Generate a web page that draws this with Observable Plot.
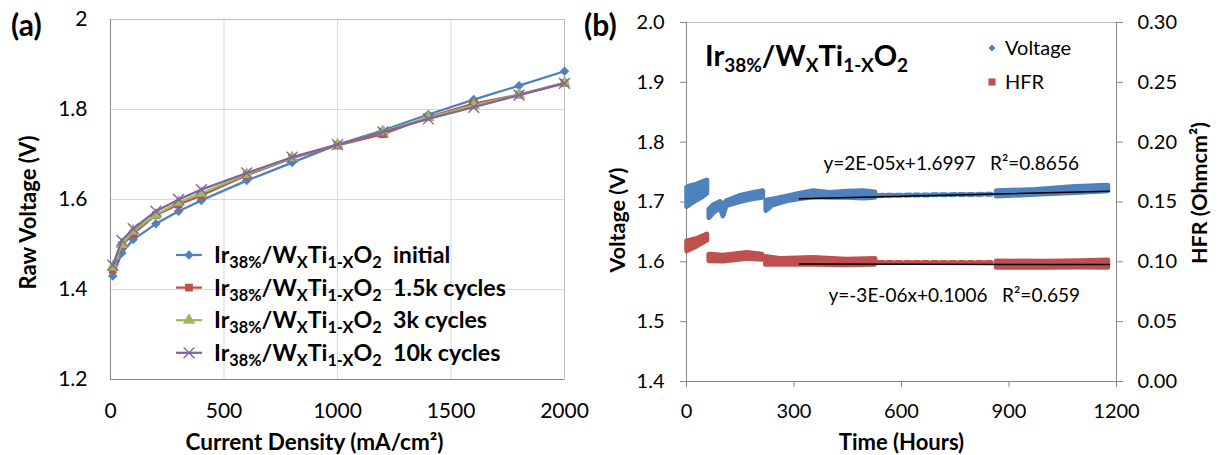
<!DOCTYPE html>
<html><head><meta charset="utf-8">
<script src="https://cdn.jsdelivr.net/npm/d3@7"></script>
<script src="https://cdn.jsdelivr.net/npm/@observablehq/plot@0.6"></script>
<style>
html,body{margin:0;padding:0;background:#fff;}
#root{position:relative;width:1220px;height:455px;overflow:hidden;background:#fff;}
#root svg{position:absolute;top:0;}
</style></head><body><div id="root"></div>
<script>
// ---------- Panel (a): polarization curves ----------
const currentDensity = [10, 50, 100, 200, 300, 400, 600, 800, 1000, 1200, 1400, 1600, 1800, 2000];
const vInitial = [1.430, 1.481, 1.511, 1.546, 1.574, 1.598, 1.642, 1.682, 1.722, 1.754, 1.789, 1.822, 1.853, 1.885];
const v1500    = [1.444, 1.498, 1.524, 1.565, 1.589, 1.609, 1.654, 1.692, 1.720, 1.745, 1.783, 1.813, 1.833, 1.859];
const v3000    = [1.450, 1.500, 1.530, 1.566, 1.594, 1.614, 1.656, 1.693, 1.722, 1.751, 1.782, 1.809, 1.833, 1.859];
const v10000   = [1.454, 1.509, 1.535, 1.574, 1.600, 1.622, 1.659, 1.694, 1.722, 1.750, 1.779, 1.805, 1.832, 1.858];
const seriesNames = ["initial", "1.5k cycles", "3k cycles", "10k cycles"];
const aXTicks = [0, 500, 1000, 1500, 2000];
const aYTicks = [1.2, 1.4, 1.6, 1.8, 2.0];
const aYTickLabels = ["1.2", "1.4", "1.6", "1.8", "2"];
const aGridX = [500, 1000, 1500];
const aGridY = [1.4, 1.6, 1.8];

// ---------- Panel (b): durability (bands) ----------
const voltSeg  = [1,1,1,1,1, 2,2,2,2,2,2,2,2, 3,3,3,3,3,3,3,3,3, 4,4,4,4];
const voltTime = [2,15,30,45,58, 64,75,95,103,112,150,188,214, 223,240,280,318,355,400,448,495,527, 866,975,1086,1177];
const voltLow  = [1.692,1.697,1.703,1.708,1.714, 1.673,1.681,1.690,1.676,1.693,1.700,1.705,1.707, 1.685,1.694,1.701,1.705,1.708,1.707,1.707,1.706,1.707, 1.709,1.712,1.715,1.718];
const voltHigh = [1.724,1.727,1.729,1.733,1.736, 1.687,1.694,1.700,1.694,1.701,1.710,1.715,1.718, 1.702,1.704,1.709,1.714,1.718,1.715,1.717,1.718,1.716, 1.718,1.720,1.725,1.727];
const voltSparseTime = [535, 858];
const voltSparse     = [1.711, 1.713];

const hfrSeg  = [1,1,1, 2,2,2,2,2, 3,3,3,3,3, 4,4,4,4];
const hfrTime = [2,30,58, 64,104,140,170,212, 222,262,355,448,527, 866,1000,1100,1177];
const hfrLow  = [0.1088,0.1129,0.1177, 0.1004,0.1002,0.1015,0.1026,0.1018, 0.0976,0.0976,0.0976,0.0971,0.0976, 0.0950,0.0950,0.0952,0.0950];
const hfrHigh = [0.1171,0.1191,0.1227, 0.1060,0.1051,0.1064,0.1074,0.1060, 0.1040,0.1023,0.1032,0.1018,0.1023, 0.1003,0.1000,0.1005,0.1012];
const hfrSparseTime = [535, 858];
const hfrSparse     = [0.0995, 0.0994];

const trendTime = [315, 1180];
const voltTrend = [1.7053, 1.7180];
const hfrTrend  = [0.0981, 0.0977];

const bXTicks = [0, 300, 600, 900, 1200];
const bYTicks = [1.4, 1.5, 1.6, 1.7, 1.8, 1.9, 2.0];
const bHfrTickLabels = ["0.00", "0.05", "0.10", "0.15", "0.20", "0.25", "0.30"];
const eqVoltage = "y=2E-05x+1.6997\u00a0\u00a0\u00a0R\u00b2=0.8656";
const eqHfr = "y=-3E-06x+0.1006\u00a0\u00a0\u00a0R\u00b2=0.659";
const legendB = ["Voltage", "HFR"];

// ---------- styling ----------
const FONT = "Lato, 'Open Sans', sans-serif";
const colors = ["#4f81bd", "#c0504d", "#9bbb59", "#8064a2"];
const plotSymbols = ["diamond2", "square", "triangle", "times"];
const d3Symbols = [d3.symbolDiamond2, d3.symbolSquare, d3.symbolTriangle, d3.symbolTimes];
const symR = [4.3, 4.4, 4.6, 5];
const BLUE = "#4f81bd", RED = "#c0504d";
const AXIS = "#868686", FRAME = "#bfbfbf", GRID = "#d9d9d9";
const plain = d => String(d);

const root = document.getElementById("root");

// ---------- build panel (a) ----------
const seriesVals = [vInitial, v1500, v3000, v10000];
const rowsA = seriesVals.map((arr, s) => arr.map((v, i) => ({s, x: currentDensity[i], y: v})));

const marksA = [
  Plot.gridX(aGridX, {stroke: GRID, strokeOpacity: 1}),
  Plot.gridY(aGridY, {stroke: GRID, strokeOpacity: 1}),
  Plot.frame({stroke: FRAME}),
  Plot.ruleX([0], {stroke: AXIS}),
  Plot.ruleY([1.2], {stroke: AXIS}),
];
rowsA.forEach((rows, s) => {
  marksA.push(Plot.line(rows, {x: "x", y: "y", stroke: colors[s], strokeWidth: 2.25}));
  const dotOpts = {x: "x", y: "y", symbol: () => plotSymbols[s], r: symR[s]};
  if (plotSymbols[s] === "times") Object.assign(dotOpts, {stroke: colors[s], fill: "none", strokeWidth: 1.4});
  else Object.assign(dotOpts, {fill: colors[s], stroke: "none"});
  marksA.push(Plot.dot(rows, dotOpts));
});
marksA.push(
  Plot.axisX({ticks: aXTicks, tickSize: 0, tickPadding: 24, label: null, fontSize: 21, tickFormat: plain}),
  Plot.axisY({ticks: aYTicks, tickSize: 0, tickPadding: 23, label: null, fontSize: 21,
              tickFormat: d => aYTickLabels[aYTicks.indexOf(d)]}),
  Plot.text(["Raw Voltage (V)"], {frameAnchor: "left", dx: -82, dy: 13, rotate: -90, fontWeight: "bold", fontSize: 22, textAnchor: "middle", lineAnchor: "middle"}),
  Plot.text(["Current Density (mA/cm\u00b2)"], {frameAnchor: "bottom", dx: -23, dy: 63, fontWeight: "bold", fontSize: 22.5, textAnchor: "middle", lineAnchor: "middle"})
);

const svgA = Plot.plot({
  width: 600, height: 455,
  marginLeft: 110, marginRight: 36, marginTop: 19, marginBottom: 76,
  x: {domain: [0, 2000]},
  y: {domain: [1.2, 2.0]},
  style: {fontFamily: FONT, fontSize: "20px", color: "#000", background: "transparent", overflow: "visible"},
  marks: marksA
});
svgA.style.left = "0px";
root.appendChild(svgA);

// ---------- build panel (b) ----------
const hv = h => 1.4 + h * 2; // HFR (0..0.30) onto voltage axis (1.4..2.0)
const voltBand = voltTime.map((t, i) => ({t, lo: voltLow[i], hi: voltHigh[i], seg: voltSeg[i]}));
const hfrBand = hfrTime.map((t, i) => ({t, lo: hv(hfrLow[i]), hi: hv(hfrHigh[i]), seg: hfrSeg[i]}));
const voltSparseRows = voltSparseTime.map((t, i) => ({t, v: voltSparse[i]}));
const hfrSparseRows = hfrSparseTime.map((t, i) => ({t, v: hv(hfrSparse[i])}));
const voltTrendRows = trendTime.map((t, i) => ({t, v: voltTrend[i]}));
const hfrTrendRows = trendTime.map((t, i) => ({t, v: hv(hfrTrend[i])}));

const svgB = Plot.plot({
  width: 640, height: 455,
  marginLeft: 106, marginRight: 104, marginTop: 22, marginBottom: 74,
  x: {domain: [0, 1200]},
  y: {domain: [1.4, 2.0]},
  style: {fontFamily: FONT, fontSize: "20px", color: "#000", background: "transparent", overflow: "visible"},
  marks: [
    Plot.frame({stroke: FRAME}),
    Plot.ruleX([0], {stroke: AXIS}),
    Plot.ruleX([1200], {stroke: AXIS}),
    Plot.ruleY([1.4], {stroke: AXIS}),
    Plot.areaY(voltBand, {x: "t", y1: "lo", y2: "hi", z: "seg", fill: BLUE, stroke: BLUE, strokeWidth: 5, strokeLinejoin: "round"}),
    Plot.line(voltSparseRows, {x: "t", y: "v", stroke: BLUE, strokeWidth: 5, strokeDasharray: "5,4"}),
    Plot.areaY(hfrBand, {x: "t", y1: "lo", y2: "hi", z: "seg", fill: RED, stroke: RED, strokeWidth: 5, strokeLinejoin: "round"}),
    Plot.line(hfrSparseRows, {x: "t", y: "v", stroke: RED, strokeWidth: 5, strokeDasharray: "5,4"}),
    Plot.line(voltTrendRows, {x: "t", y: "v", stroke: "#000", strokeWidth: 1.5}),
    Plot.line(hfrTrendRows, {x: "t", y: "v", stroke: "#000", strokeWidth: 1.5}),
    Plot.axisX({ticks: bXTicks, tickSize: 6, tickPadding: 16, stroke: AXIS, label: null, fontSize: 20, tickFormat: plain}),
    Plot.axisY({ticks: bYTicks, tickSize: 6, tickPadding: 16, stroke: AXIS, label: null, fontSize: 20, tickFormat: d3.format(".1f")}),
    Plot.axisY({anchor: "right", ticks: bYTicks, tickSize: 6, tickPadding: 15, stroke: AXIS, label: null, fontSize: 20,
                tickFormat: d => bHfrTickLabels[bYTicks.indexOf(d)]}),
    Plot.text(["Voltage (V)"], {frameAnchor: "left", dx: -68, dy: 18, rotate: -90, fontWeight: "bold", fontSize: 21.5, textAnchor: "middle", lineAnchor: "middle"}),
    Plot.text(["HFR (Ohmcm\u00b2)"], {frameAnchor: "right", dx: 84, dy: -9, rotate: -90, fontWeight: "bold", fontSize: 21.5, textAnchor: "middle", lineAnchor: "middle"}),
    Plot.text(["Time (Hours)"], {frameAnchor: "bottom", dx: 0, dy: 61, fontWeight: "bold", fontSize: 22, textAnchor: "middle", lineAnchor: "middle"}),
    Plot.text([eqVoltage], {frameAnchor: "top-left", dx: 137, dy: 141, fontSize: 19, textAnchor: "start", lineAnchor: "middle"}),
    Plot.text([eqHfr], {frameAnchor: "top-left", dx: 142, dy: 273, fontSize: 19, textAnchor: "start", lineAnchor: "middle"})
  ]
});
svgB.style.left = "580px";
root.appendChild(svgB);

// ---------- formula text helper (subscripts) ----------
function formula(g, x, y, size, subSize, drop, suffix) {
  const parts = [["Ir",0],["38%",1],["/W",0],["X",1],["Ti",0],["1-X",1],["O",0],["2",1]];
  if (suffix) parts.push([suffix, 0]);
  const t = g.append("text").attr("x", x).attr("y", y).attr("font-size", size)
    .attr("font-weight", "bold").attr("fill", "#000").attr("font-family", FONT).attr("text-anchor", "start");
  let cur = 0;
  parts.forEach(([s, sub]) => {
    const target = sub ? drop : 0;
    t.append("tspan").attr("dy", target - cur).attr("font-size", sub ? subSize : size).text(s);
    cur = target;
  });
}

// ---------- panel (a) legend and tag ----------
const gA = d3.select(svgA).append("g").attr("text-anchor", "start");
gA.append("text").attr("x", 11).attr("y", 36).attr("font-size", 30).attr("font-weight", "bold")
  .attr("font-family", FONT).attr("fill", "#000").text("(a)");
seriesNames.forEach((name, i) => {
  const cy = 255 + i * 32.6;
  gA.append("line").attr("x1", 176).attr("x2", 202).attr("y1", cy).attr("y2", cy)
    .attr("stroke", colors[i]).attr("stroke-width", 2.25);
  const sym = d3.symbol(d3Symbols[i], Math.PI * symR[i] * symR[i]);
  const p = gA.append("path").attr("transform", `translate(189,${cy})`).attr("d", sym());
  if (plotSymbols[i] === "times") p.attr("fill", "none").attr("stroke", colors[i]).attr("stroke-width", 1.4);
  else p.attr("fill", colors[i]);
  formula(gA, 214, cy + 8, 23.2, 16.3, 5, "\u00a0\u00a0" + name);
});

// ---------- panel (b) title, legend and tag ----------
const gB = d3.select(svgB).append("g").attr("text-anchor", "start");
gB.append("text").attr("x", 4).attr("y", 36).attr("font-size", 30).attr("font-weight", "bold")
  .attr("font-family", FONT).attr("fill", "#000").text("(b)");
formula(gB, 705 - 580, 66, 29, 19, 6, "");
const legSyms = [d3.symbol(d3.symbolDiamond2, 30), d3.symbol(d3.symbolSquare, 50)];
const legCols = [BLUE, RED];
legendB.forEach((name, i) => {
  const cy = 48 + i * 34;
  gB.append("path").attr("transform", `translate(${992 - 580},${cy})`).attr("d", legSyms[i]()).attr("fill", legCols[i]);
  gB.append("text").attr("x", 1005 - 580).attr("y", cy + 7.2).attr("font-size", 20)
    .attr("font-family", FONT).attr("fill", "#000").text(name);
});
</script>
</body></html>
